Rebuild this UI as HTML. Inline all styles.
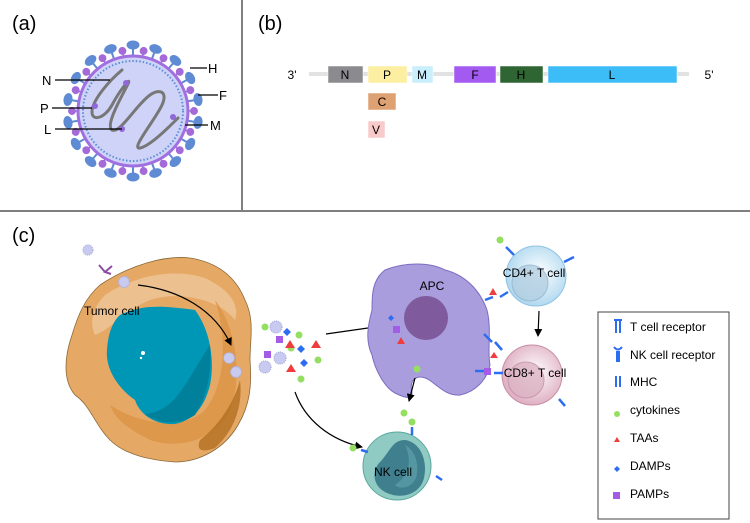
<!DOCTYPE html>
<html><head><meta charset="utf-8"><style>
html,body{margin:0;padding:0;background:#fff;}
svg{display:block;font-family:"Liberation Sans",sans-serif;}
</style></head><body>
<svg width="750" height="523" viewBox="0 0 750 523" xmlns="http://www.w3.org/2000/svg">
<defs>
<marker id="ah" markerWidth="8" markerHeight="8" refX="7" refY="4" orient="auto" markerUnits="userSpaceOnUse"><path d="M0,0 L8,4 L0,8 Z" fill="#000"/></marker>
<radialGradient id="cd4" cx="0.55" cy="0.45" r="0.6"><stop offset="0" stop-color="#fff"/><stop offset="1" stop-color="#a9d5ee"/></radialGradient>
<radialGradient id="cd8" cx="0.55" cy="0.45" r="0.6"><stop offset="0" stop-color="#fff"/><stop offset="1" stop-color="#dca9bd"/></radialGradient>
</defs>
<line x1="242" y1="0" x2="242" y2="210" stroke="#555" stroke-width="1.5"/>
<line x1="0" y1="211" x2="750" y2="211" stroke="#333" stroke-width="1.2"/>
<text x="12" y="30" font-size="20">(a)</text>
<text x="258" y="30" font-size="20">(b)</text>
<text x="12" y="242" font-size="20">(c)</text>

<g transform="translate(133,111)">
<g fill="#5e8bd3" stroke="#5e8bd3" stroke-width="2">
<g transform="rotate(0)"><line x1="0" y1="-56" x2="0" y2="-64"/><ellipse cx="0" cy="-66" rx="5.5" ry="3.5"/></g>
<g transform="rotate(20)"><line x1="0" y1="-56" x2="0" y2="-64"/><ellipse cx="0" cy="-66" rx="5.5" ry="3.5"/></g>
<g transform="rotate(40)"><line x1="0" y1="-56" x2="0" y2="-64"/><ellipse cx="0" cy="-66" rx="5.5" ry="3.5"/></g>
<g transform="rotate(60)"><line x1="0" y1="-56" x2="0" y2="-64"/><ellipse cx="0" cy="-66" rx="5.5" ry="3.5"/></g>
<g transform="rotate(80)"><line x1="0" y1="-56" x2="0" y2="-64"/><ellipse cx="0" cy="-66" rx="5.5" ry="3.5"/></g>
<g transform="rotate(100)"><line x1="0" y1="-56" x2="0" y2="-64"/><ellipse cx="0" cy="-66" rx="5.5" ry="3.5"/></g>
<g transform="rotate(120)"><line x1="0" y1="-56" x2="0" y2="-64"/><ellipse cx="0" cy="-66" rx="5.5" ry="3.5"/></g>
<g transform="rotate(140)"><line x1="0" y1="-56" x2="0" y2="-64"/><ellipse cx="0" cy="-66" rx="5.5" ry="3.5"/></g>
<g transform="rotate(160)"><line x1="0" y1="-56" x2="0" y2="-64"/><ellipse cx="0" cy="-66" rx="5.5" ry="3.5"/></g>
<g transform="rotate(180)"><line x1="0" y1="-56" x2="0" y2="-64"/><ellipse cx="0" cy="-66" rx="5.5" ry="3.5"/></g>
<g transform="rotate(200)"><line x1="0" y1="-56" x2="0" y2="-64"/><ellipse cx="0" cy="-66" rx="5.5" ry="3.5"/></g>
<g transform="rotate(220)"><line x1="0" y1="-56" x2="0" y2="-64"/><ellipse cx="0" cy="-66" rx="5.5" ry="3.5"/></g>
<g transform="rotate(240)"><line x1="0" y1="-56" x2="0" y2="-64"/><ellipse cx="0" cy="-66" rx="5.5" ry="3.5"/></g>
<g transform="rotate(260)"><line x1="0" y1="-56" x2="0" y2="-64"/><ellipse cx="0" cy="-66" rx="5.5" ry="3.5"/></g>
<g transform="rotate(280)"><line x1="0" y1="-56" x2="0" y2="-64"/><ellipse cx="0" cy="-66" rx="5.5" ry="3.5"/></g>
<g transform="rotate(300)"><line x1="0" y1="-56" x2="0" y2="-64"/><ellipse cx="0" cy="-66" rx="5.5" ry="3.5"/></g>
<g transform="rotate(320)"><line x1="0" y1="-56" x2="0" y2="-64"/><ellipse cx="0" cy="-66" rx="5.5" ry="3.5"/></g>
<g transform="rotate(340)"><line x1="0" y1="-56" x2="0" y2="-64"/><ellipse cx="0" cy="-66" rx="5.5" ry="3.5"/></g>
</g>
<g fill="#a36ad8" stroke="#a36ad8" stroke-width="1.5">
<g transform="rotate(10)"><line x1="0" y1="-56" x2="0" y2="-60"/><circle cx="0" cy="-61" r="3.2"/></g>
<g transform="rotate(30)"><line x1="0" y1="-56" x2="0" y2="-60"/><circle cx="0" cy="-61" r="3.2"/></g>
<g transform="rotate(50)"><line x1="0" y1="-56" x2="0" y2="-60"/><circle cx="0" cy="-61" r="3.2"/></g>
<g transform="rotate(70)"><line x1="0" y1="-56" x2="0" y2="-60"/><circle cx="0" cy="-61" r="3.2"/></g>
<g transform="rotate(90)"><line x1="0" y1="-56" x2="0" y2="-60"/><circle cx="0" cy="-61" r="3.2"/></g>
<g transform="rotate(110)"><line x1="0" y1="-56" x2="0" y2="-60"/><circle cx="0" cy="-61" r="3.2"/></g>
<g transform="rotate(130)"><line x1="0" y1="-56" x2="0" y2="-60"/><circle cx="0" cy="-61" r="3.2"/></g>
<g transform="rotate(150)"><line x1="0" y1="-56" x2="0" y2="-60"/><circle cx="0" cy="-61" r="3.2"/></g>
<g transform="rotate(170)"><line x1="0" y1="-56" x2="0" y2="-60"/><circle cx="0" cy="-61" r="3.2"/></g>
<g transform="rotate(190)"><line x1="0" y1="-56" x2="0" y2="-60"/><circle cx="0" cy="-61" r="3.2"/></g>
<g transform="rotate(210)"><line x1="0" y1="-56" x2="0" y2="-60"/><circle cx="0" cy="-61" r="3.2"/></g>
<g transform="rotate(230)"><line x1="0" y1="-56" x2="0" y2="-60"/><circle cx="0" cy="-61" r="3.2"/></g>
<g transform="rotate(250)"><line x1="0" y1="-56" x2="0" y2="-60"/><circle cx="0" cy="-61" r="3.2"/></g>
<g transform="rotate(270)"><line x1="0" y1="-56" x2="0" y2="-60"/><circle cx="0" cy="-61" r="3.2"/></g>
<g transform="rotate(290)"><line x1="0" y1="-56" x2="0" y2="-60"/><circle cx="0" cy="-61" r="3.2"/></g>
<g transform="rotate(310)"><line x1="0" y1="-56" x2="0" y2="-60"/><circle cx="0" cy="-61" r="3.2"/></g>
<g transform="rotate(330)"><line x1="0" y1="-56" x2="0" y2="-60"/><circle cx="0" cy="-61" r="3.2"/></g>
<g transform="rotate(350)"><line x1="0" y1="-56" x2="0" y2="-60"/><circle cx="0" cy="-61" r="3.2"/></g>
</g>
<circle r="55" fill="#cfd3f7" stroke="#a070e0" stroke-width="3"/>
<circle r="50" fill="none" stroke="#5a8fd6" stroke-width="2" stroke-dasharray="1.5 2"/>
</g>
<path d="M122,70 C110,80 92,100 92,112 C92,122 105,118 112,105 C120,90 132,75 128,84 C122,96 105,125 112,130 C120,134 136,105 150,95 C160,88 168,92 162,105 C155,120 130,150 140,148 C150,146 168,128 178,118" fill="none" stroke="#777" stroke-width="3" stroke-linecap="round"/>
<g fill="#8f67d8"><circle cx="126" cy="83" r="3"/><circle cx="95" cy="106" r="3"/><circle cx="122" cy="129" r="3"/><circle cx="173" cy="117" r="3"/></g>
<g stroke="#000" stroke-width="1.2">
<line x1="55" y1="80" x2="110" y2="80"/><line x1="52" y1="108" x2="92" y2="108"/><line x1="55" y1="129" x2="122" y2="129"/>
<line x1="190" y1="68" x2="207" y2="68"/><line x1="198" y1="95" x2="218" y2="95"/><line x1="185" y1="125" x2="208" y2="125"/>
</g>
<g font-size="13"><text x="42" y="85">N</text><text x="40" y="113">P</text><text x="44" y="134">L</text>
<text x="208" y="73">H</text><text x="219" y="100">F</text><text x="210" y="130">M</text></g>

<line x1="309" y1="74" x2="689" y2="74" stroke="#e2e2e2" stroke-width="4"/>
<g stroke="#fff" stroke-width="0.5">
<rect x="328" y="66" width="35" height="17" fill="#8b8b8f"/>
<rect x="368" y="66" width="39" height="17" fill="#fcefa1"/>
<rect x="412" y="66" width="21" height="17" fill="#c9eefc"/>
<rect x="454" y="66" width="42" height="17" fill="#a25af0"/>
<rect x="500" y="66" width="43" height="17" fill="#2e6532"/>
<rect x="548" y="66" width="129" height="17" fill="#3dbdf7"/>
<rect x="368" y="93" width="28" height="17" fill="#dea172"/>
<rect x="368" y="121" width="17" height="17" fill="#f9caca"/>
</g>
<g font-size="12" text-anchor="middle">
<text x="292" y="79">3'</text><text x="709" y="79">5'</text>
<text x="345" y="79">N</text><text x="387" y="79">P</text><text x="422" y="79">M</text><text x="475" y="79">F</text><text x="521" y="79">H</text><text x="612" y="79">L</text>
<text x="382" y="106">C</text><text x="376" y="134">V</text>
</g>

<!-- tumor -->
<path d="M100,285 C130,265 165,255 190,258 C215,262 235,275 245,300 C255,320 250,340 250,360 C252,385 250,405 238,425 C225,448 200,462 175,462 C150,460 125,455 110,440 C95,425 90,405 75,395 C62,380 65,355 72,335 C78,315 85,298 100,285 Z" fill="#e6a965" stroke="#8c6a3a" stroke-width="0.8"/>
<path d="M105,295 C135,275 175,268 205,278 C230,290 240,305 235,320 C220,300 180,290 150,300 C125,310 110,330 95,335 C88,320 95,305 105,295 Z" fill="#eec69a" opacity="0.8"/>
<path d="M215,300 C238,330 242,380 230,410 C215,440 180,450 150,440 C130,430 115,420 110,405 C140,425 185,430 205,410 C225,385 228,340 215,300 Z" fill="#dc9445" opacity="0.8"/>
<path d="M200,440 C220,425 235,400 240,380 C243,405 235,430 215,448 C205,452 195,452 200,440 Z" fill="#b26f20" opacity="0.8"/>
<path d="M120,315 C140,305 160,305 195,310 C210,330 215,360 210,385 C205,405 195,420 175,424 C155,425 140,415 135,400 C120,390 105,370 107,350 C108,335 112,322 120,315 Z" fill="#0096b6"/>
<path d="M210,345 C212,370 208,395 195,415 C180,425 160,425 145,414 C165,412 175,400 185,385 C195,370 200,360 210,345 Z" fill="#00809b"/>
<circle cx="143" cy="353" r="2" fill="#fff"/><circle cx="141" cy="358" r="1.2" fill="#fff"/>
<text x="84" y="315" font-size="12">Tumor cell</text>
<g fill="#c8cbef" stroke="#a5a8dd" stroke-width="1.2" stroke-dasharray="1 1">
<circle cx="88" cy="250" r="5"/><circle cx="124" cy="282" r="5.5"/><circle cx="229" cy="358" r="5.5"/><circle cx="236" cy="372" r="5.5"/>
<circle cx="276" cy="327" r="6"/><circle cx="280" cy="358" r="6"/><circle cx="265" cy="367" r="6"/>
</g>
<path d="M99,265 L105,272 M112,266 L105,272 L111,274" stroke="#8a4fa0" stroke-width="2" fill="none"/>
<path d="M138,285 C180,290 215,310 231,345" fill="none" stroke="#000" stroke-width="1.2" marker-end="url(#ah)"/>
<path d="M295,392 C305,420 330,440 362,447" fill="none" stroke="#000" stroke-width="1.2" marker-end="url(#ah)"/>
<line x1="326" y1="334" x2="382" y2="326" stroke="#000" stroke-width="1.2" marker-end="url(#ah)"/>
<g fill="#94de62"><circle cx="265" cy="327" r="3.5"/><circle cx="299" cy="335" r="3.5"/><circle cx="291" cy="348" r="3.5"/><circle cx="318" cy="360" r="3.5"/><circle cx="301" cy="379" r="3.5"/></g>
<g fill="#ef3d3d"><path d="M290,340 L295,348 L285,348Z"/><path d="M316,340 L321,348 L311,348Z"/><path d="M291,364 L296,372 L286,372Z"/></g>
<g fill="#2d6ef0"><path d="M287,328 L291,332 L287,336 L283,332Z"/><path d="M301,345 L305,349 L301,353 L297,349Z"/><path d="M304,359 L308,363 L304,367 L300,363Z"/></g>
<g fill="#a45ce6"><rect x="276" y="336" width="7" height="7"/><rect x="264" y="351" width="7" height="7"/></g>

<!-- APC -->
<path d="M385,270 C405,262 430,262 445,270 C465,275 480,290 487,310 C492,330 487,350 490,365 C487,380 475,392 460,395 C448,396 440,388 432,382 C420,372 408,378 412,392 C412,400 405,398 395,393 C385,388 375,370 372,355 C365,340 368,325 372,310 C372,295 372,280 385,270 Z" fill="#a99ddd" stroke="#7d6dc0" stroke-width="1"/>
<circle cx="426" cy="318" r="22" fill="#7f5a9d"/>
<text x="432" y="290" font-size="12" text-anchor="middle">APC</text>
<path d="M391,315 L394,318 L391,321 L388,318Z" fill="#2d6ef0"/>
<rect x="393" y="326" width="7" height="7" fill="#a45ce6"/>
<path d="M401,337 L405,344 L397,344Z" fill="#ef3d3d"/>
<circle cx="417" cy="369" r="3.5" fill="#94de62"/>
<line x1="415" y1="378" x2="409" y2="401" stroke="#000" stroke-width="1.2" marker-end="url(#ah)"/>
<circle cx="536" cy="276" r="30" fill="url(#cd4)" stroke="#8ec3e3" stroke-width="1"/>
<circle cx="530" cy="283" r="18" fill="#b3cfe2" stroke="#8fb3cc" stroke-width="1" opacity="0.8"/>
<text x="534" y="277" font-size="12" text-anchor="middle">CD4+ T cell</text>
<line x1="539" y1="311" x2="538" y2="336" stroke="#000" stroke-width="1.2" marker-end="url(#ah)"/>
<circle cx="532" cy="375" r="30" fill="url(#cd8)" stroke="#c88ea6" stroke-width="1"/>
<circle cx="526" cy="380" r="18" fill="#dcb3c3" stroke="#c08ea3" stroke-width="1" opacity="0.8"/>
<text x="535" y="377" font-size="12" text-anchor="middle">CD8+ T cell</text>
<circle cx="397" cy="466" r="34" fill="#8fcbc2" stroke="#5aa79e" stroke-width="1"/>
<path d="M405,440 C420,442 428,460 424,478 C420,495 400,500 385,492 C372,485 372,470 380,462 C390,452 392,440 405,440 Z" fill="#3f7f8e"/>
<path d="M405,445 C415,450 420,465 416,478 C412,488 400,490 395,485 C410,475 412,460 405,445Z" fill="#5596a3"/>
<text x="393" y="476" font-size="12" text-anchor="middle">NK cell</text>
<g fill="#94de62"><circle cx="404" cy="413" r="3.5"/><circle cx="412" cy="422" r="3.5"/><circle cx="353" cy="448" r="3.5"/><circle cx="500" cy="240" r="3.5"/></g>
<g stroke="#2d6ef0" stroke-width="2.5" fill="none">
<path d="M506,247 L514,255"/><path d="M564,262 L574,257"/><path d="M500,297 L508,292"/><path d="M485,300 L493,297"/>
<path d="M484,334 L492,342"/><path d="M495,342 L502,350"/><path d="M475,371 L485,371"/><path d="M494,373 L503,373"/>
<path d="M559,399 L565,406"/><path d="M361,450 L368,452"/><path d="M412,427 L412,435"/><path d="M436,476 L442,480"/>
</g>
<path d="M494,352 L498,358 L490,358Z" fill="#ef3d3d"/>
<path d="M493,288 L497,295 L489,295Z" fill="#ef3d3d"/>
<rect x="484" y="368" width="7" height="7" fill="#a45ce6"/>

<rect x="598" y="312" width="131" height="207" fill="#fff" stroke="#444" stroke-width="1"/>
<g font-size="12">
<text x="630" y="331">T cell receptor</text>
<text x="630" y="359">NK cell receptor</text>
<text x="630" y="386">MHC</text>
<text x="630" y="414">cytokines</text>
<text x="630" y="442">TAAs</text>
<text x="630" y="470">DAMPs</text>
<text x="630" y="498">PAMPs</text>
</g>
<g stroke="#2d6ef0" stroke-width="2" fill="none">
<path d="M616,320 L616,333 M620,320 L620,333 M614,320 L622,320"/>
<path d="M614,347 Q618,352 622,347 M617,351 L617,362 M619,351 L619,362"/>
<path d="M616,376 L616,387 M620,376 L620,387"/>
</g>
<circle cx="617" cy="414" r="3" fill="#94de62"/>
<path d="M617,437 L620,442 L614,442Z" fill="#ef3d3d"/>
<path d="M617,466 L620,469 L617,472 L614,469Z" fill="#2d6ef0"/>
<rect x="613" y="492" width="7" height="7" fill="#a45ce6"/>
</svg>
</body></html>
